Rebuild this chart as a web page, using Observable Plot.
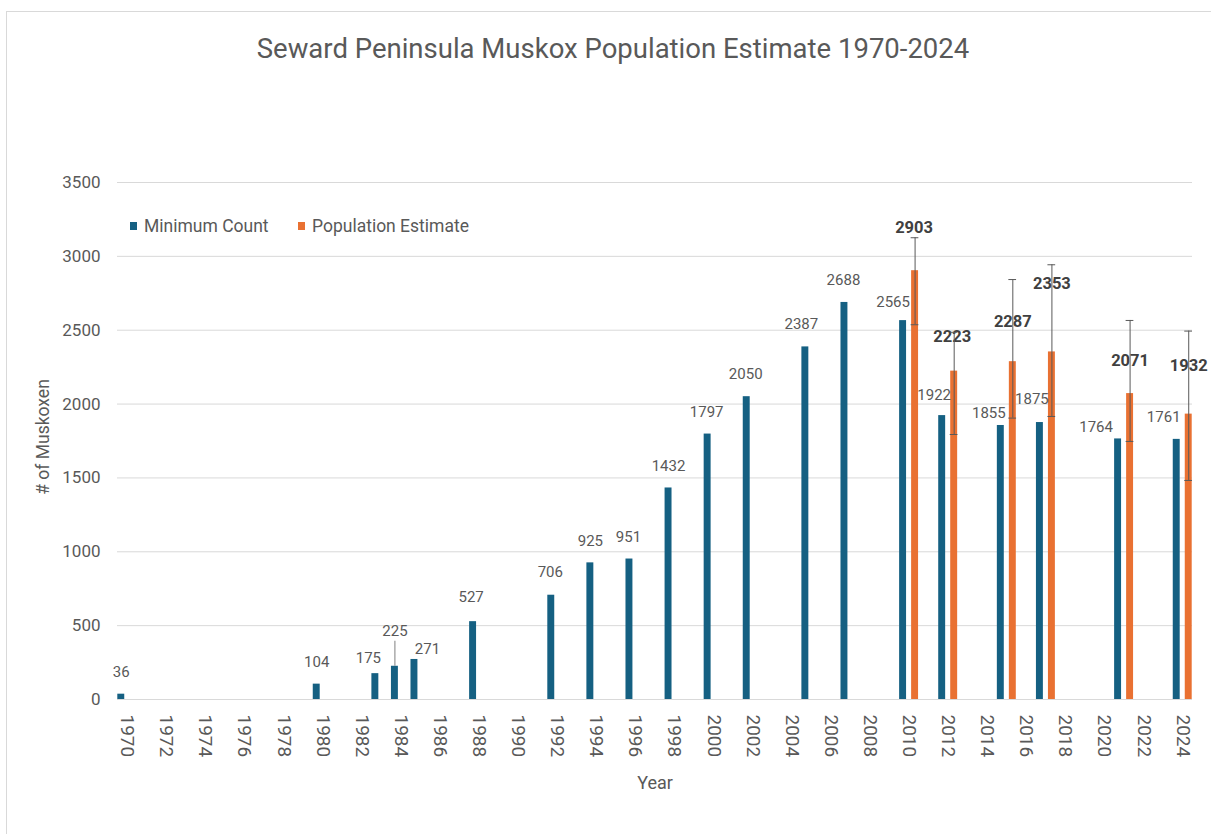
<!DOCTYPE html>
<html>
<head>
<meta charset="utf-8">
<script src="https://cdn.jsdelivr.net/npm/d3@7"></script>
<script src="https://cdn.jsdelivr.net/npm/@observablehq/plot@0.6"></script>
<style>
  html, body { margin: 0; padding: 0; background: #fff; }
  #wrap { position: relative; width: 1211px; height: 834px; overflow: hidden; font-family: Roboto, "Noto Sans", sans-serif; color: #595959; }
  #wrap svg { position: absolute; left: 0; top: 0; }
  #border { position: absolute; left: 6px; top: 11px; width: 1300px; height: 900px; border: 1px solid #d9d9d9; box-sizing: border-box; }
  #title { position: absolute; left: 0; width: 1226px; top: 32px; text-align: center; font-size: 27.5px; color: #595959; }
  .item { position: absolute; top: 216px; font-size: 17.5px; display: flex; align-items: center; white-space: nowrap; }
  .sw { display: inline-block; width: 7px; height: 8px; margin-right: 7px; }
  #ylabel { position: absolute; left: 43px; top: 437px; transform: translate(-50%, -50%) rotate(-90deg); font-size: 17.5px; white-space: nowrap; }
  #xlabel { position: absolute; left: 655px; top: 782px; transform: translate(-50%, -50%); font-size: 18px; }
</style>
</head>
<body>
<div id="wrap">
  <div id="border"></div>
  <div id="chart"></div>
  <div id="title">Seward Peninsula Muskox Population Estimate 1970-2024</div>
  <span class="item" style="left:130px"><span class="sw" style="background:#156082"></span>Minimum Count</span>
  <span class="item" style="left:298px"><span class="sw" style="background:#E97132"></span>Population Estimate</span>
  <div id="ylabel"># of Muskoxen</div>
  <div id="xlabel">Year</div>
</div>
<script>
// ---- data ----
const years = d3.range(1970, 2025);
const xTickYears = years.filter(y => y % 2 === 0);
const yTicks = [0, 500, 1000, 1500, 2000, 2500, 3000, 3500];

const minYears  = [1970, 1980, 1983, 1984, 1985, 1988, 1992, 1994, 1996, 1998, 2000, 2002, 2005, 2007, 2010, 2012, 2015, 2017, 2021, 2024];
const minCounts = [36, 104, 175, 225, 271, 527, 706, 925, 951, 1432, 1797, 2050, 2387, 2688, 2565, 1922, 1855, 1875, 1764, 1761];

const estYears  = [2010, 2012, 2015, 2017, 2021, 2024];
const estValues = [2903, 2223, 2287, 2353, 2071, 1932];
const estLower  = [2537, 1794, 1905, 1916, 1747, 1483];
const estUpper  = [3126, 2486, 2843, 2943, 2566, 2494];

// ---- label nudges (styling, px) ----
const minLabelDx = [0, 0, -7, 0, 13, -2, -1, 0, -1, 0, -1, -1, -4, -1, -10, -8, -12, -8, -22, -13];
const minLabelDy = [-22, -22, -15, -35, -10, -24, -23, -22, -22, -22, -22, -22, -23, -22, -18, -20, -12, -23, -12, -22];
const estLabelDx = [-1, -2, 0, 0, 0, 0];
const estLabelDy = [-43, -34, -40, -68, -33, -48];

const minData = minYears.map((year, i) => ({year, value: minCounts[i], i}));
const estData = estYears.map((year, i) => ({year, value: estValues[i], lo: estLower[i], hi: estUpper[i], i}));

const BLUE = "#156082", ORANGE = "#E97132";

const marks = [
  Plot.gridY(yTicks, {stroke: "#d9d9d9", strokeOpacity: 1, strokeWidth: 1}),
  Plot.axisY(yTicks, {tickSize: 0, tickPadding: 17, fontSize: 17, label: null, fill: "#595959", tickFormat: d => String(d)}),
  Plot.axisX(xTickYears, {tickSize: 0, tickRotate: 90, fontSize: 19, label: null, fill: "#595959", tickPadding: 15, tickFormat: d => String(d)}),
  Plot.barY(minData, {x: "year", y: "value", fill: BLUE, insetLeft: 0.3, insetRight: 12.3}),
  Plot.barY(estData, {x: "year", y: "value", fill: ORANGE, insetLeft: 12.3, insetRight: 0.3}),
  // leader line for 1984
  Plot.ruleX(minData.filter(d => d.year === 1984), {x: "year", y1: "value", y2: "value", dx: -6, insetTop: -25, stroke: "#7f7f7f", strokeWidth: 1})
];
// per-label text marks (nudges differ per label)
minData.forEach(d => {
  marks.push(Plot.text([d], {x: "year", y: "value", text: d => String(d.value), dx: -6 + minLabelDx[d.i], dy: minLabelDy[d.i], lineAnchor: "middle", fontSize: 15, fill: "#595959"}));
});
estData.forEach(d => {
  marks.push(Plot.text([d], {x: "year", y: "value", text: d => String(d.value), dx: 6 + estLabelDx[d.i], dy: estLabelDy[d.i], lineAnchor: "middle", fontSize: 16.5, fontWeight: "bold", fill: "#404040"}));
});
// error bars
marks.push(Plot.ruleX(estData, {x: "year", y1: "lo", y2: "hi", dx: 6, stroke: "#595959", strokeWidth: 1}));
marks.push(Plot.tickY(estData, {x: "year", y: "lo", insetLeft: 11.8, insetRight: 0, stroke: "#595959", strokeWidth: 1}));
marks.push(Plot.tickY(estData, {x: "year", y: "hi", insetLeft: 11.8, insetRight: 0, stroke: "#595959", strokeWidth: 1}));

const chart = Plot.plot({
  width: 1211,
  height: 834,
  marginLeft: 117,
  marginRight: 19,
  marginTop: 182,
  marginBottom: 135,
  x: {type: "band", domain: years, padding: 0},
  y: {domain: [0, 3500]},
  style: {fontFamily: "Roboto, 'Noto Sans', sans-serif", background: "transparent", color: "#595959"},
  marks
});
document.getElementById("chart").appendChild(chart);
</script>
</body>
</html>
